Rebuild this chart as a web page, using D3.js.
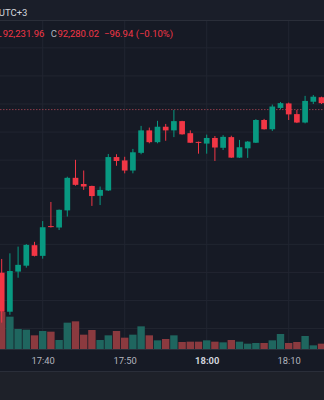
<!DOCTYPE html>
<html>
<head>
<meta charset="utf-8">
<script src="https://cdn.jsdelivr.net/npm/d3@7"></script>
<style>
  html, body { margin: 0; padding: 0; background: #161a25; overflow: hidden; }
  svg { display: block; font-family: Roboto, "Noto Sans", sans-serif; }
</style>
</head>
<body>
<svg id="chart" width="324" height="400"></svg>
<script>
// 1-minute BTC candles, 17:35 – 18:14 (UTC+3)
const times = [
  "17:35","17:36","17:37","17:38","17:39","17:40","17:41","17:42","17:43","17:44",
  "17:45","17:46","17:47","17:48","17:49","17:50","17:51","17:52","17:53","17:54",
  "17:55","17:56","17:57","17:58","17:59","18:00","18:01","18:02","18:03","18:04",
  "18:05","18:06","18:07","18:08","18:09","18:10","18:11","18:12","18:13","18:14"
];
const opens = [
  91699, 91560, 91703, 91724, 91797, 91759, 91865, 91860, 91921, 92037,
  92015, 92008, 91973, 91992, 92111, 92099, 92063, 92126, 92206, 92164,
  92219, 92206, 92239, 92196, 92165, 92159, 92179, 92144, 92182, 92109,
  92142, 92162, 92243, 92210, 92286, 92302, 92264, 92234, 92308, 92324
];
const highs = [
  91748, 91768, 91792, 91801, 91809, 91883, 91951, 91924, 92041, 92101,
  92063, 92009, 92006, 92122, 92121, 92112, 92140, 92222, 92216, 92240,
  92229, 92279, 92240, 92206, 92166, 92191, 92186, 92189, 92187, 92172,
  92168, 92246, 92247, 92298, 92307, 92305, 92279, 92329, 92332, 92326
];
const lows = [
  91521, 91549, 91681, 91717, 91757, 91749, 91860, 91851, 91899, 92009,
  91994, 91937, 91940, 91990, 92080, 92053, 92053, 92121, 92160, 92160,
  92169, 92182, 92191, 92161, 92123, 92123, 92097, 92136, 92108, 92108,
  92108, 92161, 92209, 92204, 92281, 92243, 92232, 92231, 92300, 92300
];
const closes = [
  91560, 91705, 91727, 91798, 91759, 91861, 91862, 91923, 92037, 92012,
  92006, 91972, 91994, 92111, 92097, 92063, 92128, 92206, 92164, 92219,
  92206, 92239, 92192, 92162, 92162, 92179, 92145, 92183, 92109, 92146,
  92166, 92243, 92210, 92291, 92303, 92263, 92234, 92311, 92326, 92303
];
const volumes = [
  57, 50, 31.5, 30.5, 22, 28.5, 27.5, 15, 41, 43,
  23, 30, 15, 22, 28.5, 18.5, 23, 35.5, 22, 14.5,
  16.5, 22, 12, 12.5, 12.5, 14.5, 12.5, 11.5, 15, 12.5,
  9.5, 10.5, 10.5, 14.5, 24, 10.5, 12, 21, 7, 9.5
];

// Legend readout and last price
const legendLow = 92231.96;
const legendClose = 92280.02;
const legendChange = -96.94;
const legendChangePct = -0.10;
const timezoneLabel = "UTC+3";

const W = 324, H = 400;
const headerH = 21, plotBottom = 350, axisBottom = 372;

const col = {
  bg: "#161a25",
  header: "#1a1e29",
  footer: "#1e2129",
  grid: "#212531",
  border: "#2a2e39",
  up: "#089981",
  down: "#f23645",
  volUp: "#1f665f",
  volDown: "#8b3a3f",
  text: "#b2b5be",
  textStrong: "#d1d4dc",
  priceLine: "#8a3d49"
};

const parse = d3.timeParse("%H:%M");
const data = times.map((t, i) => ({
  t: parse(t), o: opens[i], h: highs[i], l: lows[i], c: closes[i], v: volumes[i]
}));

const x = d3.scaleTime()
  .domain([parse("17:35"), parse("18:15")])
  .range([1.7, 329.7]);
const y = d3.scaleLinear()
  .domain([91300, 92500])
  .range([384.7, 47.86]);
const yv = d3.scaleLinear()
  .domain([0, 60])
  .range([plotBottom, 310]);

const svg = d3.select("#chart");

// backgrounds
svg.append("rect").attr("width", W).attr("height", H).attr("fill", col.bg);
svg.append("rect").attr("width", W).attr("height", headerH).attr("fill", col.header);
svg.append("rect").attr("y", axisBottom).attr("width", W).attr("height", H - axisBottom).attr("fill", col.footer);

svg.append("defs").append("clipPath").attr("id", "plot")
  .append("rect").attr("x", 0).attr("y", headerH).attr("width", W).attr("height", plotBottom - headerH);

const plot = svg.append("g").attr("clip-path", "url(#plot)");

// grid
const timeTicks = x.ticks(d3.timeMinute.every(10));
plot.append("g").selectAll("line").data(timeTicks).join("line")
  .attr("x1", d => x(d)).attr("x2", d => x(d))
  .attr("y1", headerH).attr("y2", plotBottom)
  .attr("stroke", col.grid).attr("stroke-width", 1);
plot.append("g").selectAll("line").data(y.ticks(12)).join("line")
  .attr("x1", 0).attr("x2", W)
  .attr("y1", d => y(d)).attr("y2", d => y(d))
  .attr("stroke", col.grid).attr("stroke-width", 1);

// volume
const volW = 7.4;
plot.append("g").selectAll("rect").data(data).join("rect")
  .attr("x", d => x(d.t) - volW / 2)
  .attr("width", volW)
  .attr("y", d => yv(d.v))
  .attr("height", d => plotBottom - yv(d.v))
  .attr("fill", d => d.c >= d.o ? col.volUp : col.volDown);

// last price line
plot.append("line")
  .attr("x1", 0).attr("x2", W)
  .attr("y1", y(legendClose)).attr("y2", y(legendClose))
  .attr("stroke", col.priceLine).attr("stroke-width", 1)
  .attr("stroke-dasharray", "1.5,1.5");

// candles
const bodyW = 5.7;
const candles = plot.append("g").selectAll("g").data(data).join("g");
candles.append("line")
  .attr("x1", d => x(d.t)).attr("x2", d => x(d.t))
  .attr("y1", d => y(d.h)).attr("y2", d => y(d.l))
  .attr("stroke", d => d.c >= d.o ? col.up : col.down)
  .attr("stroke-width", 1);
candles.append("rect")
  .attr("x", d => x(d.t) - bodyW / 2)
  .attr("width", bodyW)
  .attr("y", d => y(Math.max(d.o, d.c)))
  .attr("height", d => Math.max(1, Math.abs(y(d.o) - y(d.c))))
  .attr("fill", d => d.c >= d.o ? col.up : col.down);

// borders
svg.append("line").attr("x1", 0).attr("x2", W).attr("y1", headerH - 0.5).attr("y2", headerH - 0.5)
  .attr("stroke", col.border);
svg.append("line").attr("x1", 0).attr("x2", W).attr("y1", plotBottom - 0.5).attr("y2", plotBottom - 0.5)
  .attr("stroke", col.border);
svg.append("line").attr("x1", 0).attr("x2", W).attr("y1", axisBottom - 0.5).attr("y2", axisBottom - 0.5)
  .attr("stroke", col.border);

// time axis
const xAxis = d3.axisBottom(x)
  .tickValues(timeTicks)
  .tickFormat(d3.timeFormat("%H:%M"))
  .tickSize(0)
  .tickPadding(0);
const ax = svg.append("g").attr("transform", `translate(0,${plotBottom})`).call(xAxis);
ax.select(".domain").remove();
ax.selectAll("text")
  .attr("y", 14.3)
  .attr("dy", 0)
  .attr("font-size", "9.4px")
  .attr("font-family", "Roboto, 'Noto Sans', sans-serif")
  .attr("fill", d => d.getHours() === 18 && d.getMinutes() === 0 ? col.textStrong : col.text)
  .attr("font-weight", d => d.getHours() === 18 && d.getMinutes() === 0 ? "bold" : "normal");

// header: timezone
svg.append("text").attr("x", -1.2).attr("y", 15.5)
  .attr("font-size", "9.5px").attr("fill", col.textStrong)
  .text(timezoneLabel);

// legend
const fmt = d3.format(",.2f");
const legend = svg.append("g").attr("font-size", "9.5px");
legend.append("text").attr("x", -3.6).attr("y", 37.4).attr("fill", col.down).text("L");
legend.append("text").attr("x", 2.7).attr("y", 37.4).attr("fill", col.down).text(fmt(legendLow));
legend.append("text").attr("x", 50.7).attr("y", 37.4).attr("fill", col.text).text("C");
legend.append("text").attr("x", 57.4).attr("y", 37.4).attr("fill", col.down).text(fmt(legendClose));
legend.append("text").attr("x", 104).attr("y", 37.4).attr("fill", col.down)
  .text(`${fmt(legendChange)} (${d3.format(".2f")(legendChangePct)}%)`);
</script>
</body>
</html>
